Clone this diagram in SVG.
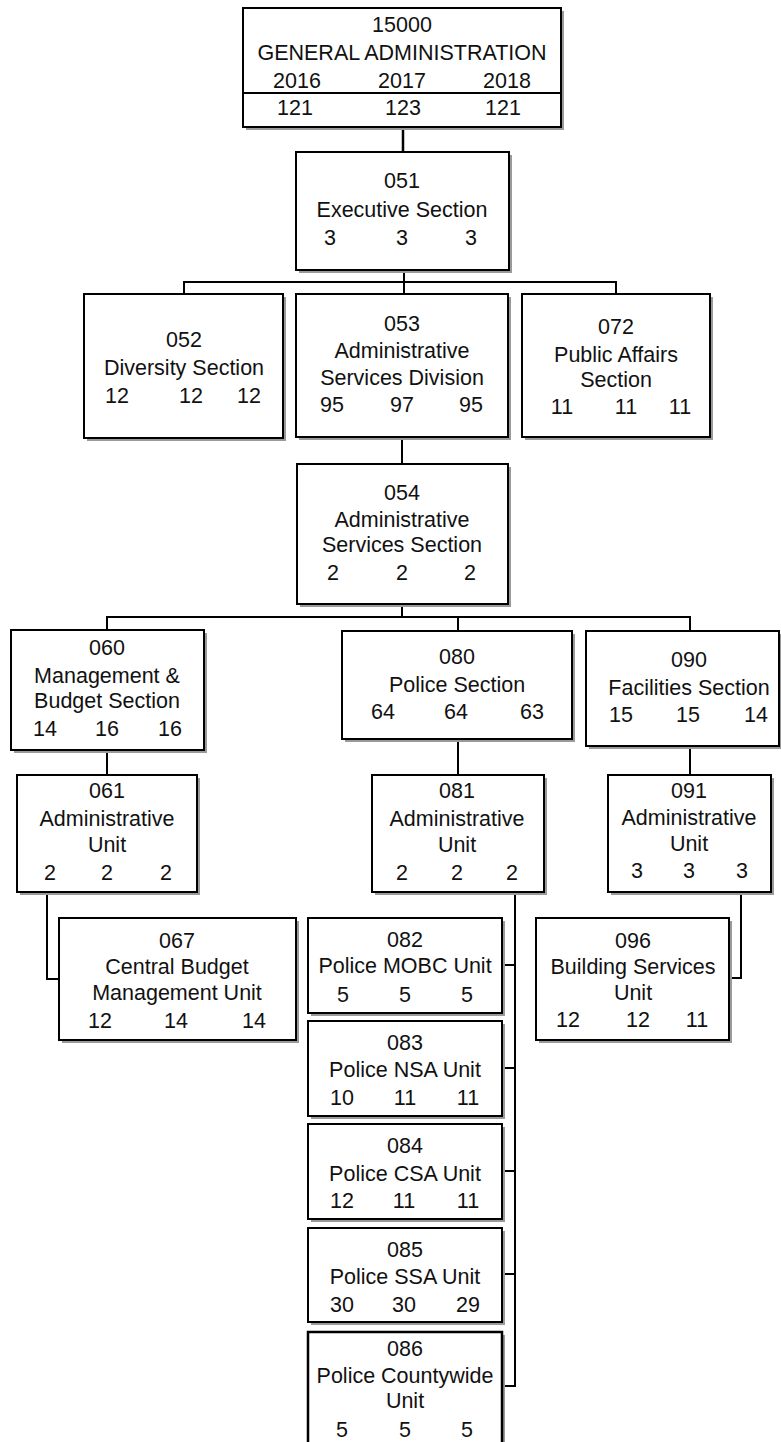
<svg xmlns="http://www.w3.org/2000/svg" width="781" height="1442" viewBox="0 0 781 1442">
  <style>
    .bg{fill:#fff}
    .box{fill:#fff;stroke:#000;stroke-width:2}
    .sh{fill:#9a9a9a}
    .ln{fill:none;stroke:#000;stroke-width:2}
    text{font-family:"Liberation Sans",Arial,sans-serif;font-size:21.5px;fill:#111;text-anchor:middle}
  </style>
  <rect class="bg" x="0" y="0" width="781" height="1442"/>

  <!-- connectors -->
  <g id="connectors">
    <path class="ln" style="stroke-width:2.5" d="M403 127V152"/>
    <path class="ln" d="M404 270V282M184 294V282H616V294M404 282V294"/>
    <path class="ln" d="M402 437V464"/>
    <path class="ln" d="M402 604V617M107 630V617H690V631M458 617V631"/>
    <path class="ln" d="M107 750V775"/>
    <path class="ln" d="M458 739V775"/>
    <path class="ln" d="M690 746V775"/>
    <path class="ln" d="M47 892V979H59"/>
    <path class="ln" d="M741 892V978H729"/>
    <path class="ln" d="M515 892V1386H502M502 965H515M502 1068H515M502 1171H515M502 1274H515"/>
  </g>

  <!-- 15000 General Administration -->
  <g id="n15000">
    <rect class="sh" x="246" y="11" width="318" height="119"/>
    <rect class="box" x="243" y="8" width="318" height="119"/>
    <path class="ln" d="M243 93H561"/>
    <text x="402" y="32">15000</text>
    <text x="402" y="60">GENERAL ADMINISTRATION</text>
    <text x="297" y="88">2016</text><text x="402" y="88">2017</text><text x="507" y="88">2018</text>
    <text x="295" y="115">121</text><text x="403" y="115">123</text><text x="503" y="115">121</text>
  </g>

  <g id="n051">
    <rect class="sh" x="299" y="155" width="213" height="118"/>
    <rect class="box" x="296" y="152" width="213" height="118"/>
    <text x="402" y="188">051</text>
    <text x="402" y="217">Executive Section</text>
    <text x="330" y="245">3</text><text x="402" y="245">3</text><text x="471" y="245">3</text>
  </g>

  <g id="n052">
    <rect class="sh" x="87" y="297" width="199" height="144"/>
    <rect class="box" x="84" y="294" width="199" height="144"/>
    <text x="184" y="347">052</text>
    <text x="184" y="375">Diversity Section</text>
    <text x="117" y="403">12</text><text x="191" y="403">12</text><text x="249" y="403">12</text>
  </g>

  <g id="n053">
    <rect class="sh" x="299" y="297" width="212" height="143"/>
    <rect class="box" x="296" y="294" width="212" height="143"/>
    <text x="402" y="331">053</text>
    <text x="402" y="358">Administrative</text>
    <text x="402" y="385">Services Division</text>
    <text x="332" y="412">95</text><text x="402" y="412">97</text><text x="471" y="412">95</text>
  </g>

  <g id="n072">
    <rect class="sh" x="525" y="297" width="188" height="143"/>
    <rect class="box" x="522" y="294" width="188" height="143"/>
    <text x="616" y="334">072</text>
    <text x="616" y="362">Public Affairs</text>
    <text x="616" y="387">Section</text>
    <text x="562" y="414">11</text><text x="626" y="414">11</text><text x="680" y="414">11</text>
  </g>

  <g id="n054">
    <rect class="sh" x="300" y="467" width="211" height="140"/>
    <rect class="box" x="297" y="464" width="211" height="140"/>
    <text x="402" y="500">054</text>
    <text x="402" y="527">Administrative</text>
    <text x="402" y="552">Services Section</text>
    <text x="333" y="580">2</text><text x="402" y="580">2</text><text x="470" y="580">2</text>
  </g>

  <g id="n060">
    <rect class="sh" x="14" y="633" width="193" height="120"/>
    <rect class="box" x="11" y="630" width="193" height="120"/>
    <text x="107" y="655">060</text>
    <text x="107" y="683">Management &amp;</text>
    <text x="107" y="708">Budget Section</text>
    <text x="45" y="736">14</text><text x="107" y="736">16</text><text x="170" y="736">16</text>
  </g>

  <g id="n080">
    <rect class="sh" x="345" y="634" width="230" height="108"/>
    <rect class="box" x="342" y="631" width="230" height="108"/>
    <text x="457" y="664">080</text>
    <text x="457" y="692">Police Section</text>
    <text x="383" y="719">64</text><text x="456" y="719">64</text><text x="532" y="719">63</text>
  </g>

  <g id="n090">
    <rect class="sh" x="589" y="634" width="193" height="115"/>
    <rect class="box" x="586" y="631" width="193" height="115"/>
    <text x="689" y="667">090</text>
    <text x="689" y="695">Facilities Section</text>
    <text x="621" y="722">15</text><text x="688" y="722">15</text><text x="756" y="722">14</text>
  </g>

  <g id="n061">
    <rect class="sh" x="20" y="778" width="180" height="117"/>
    <rect class="box" x="17" y="775" width="180" height="117"/>
    <text x="107" y="798">061</text>
    <text x="107" y="826">Administrative</text>
    <text x="107" y="852">Unit</text>
    <text x="50" y="880">2</text><text x="107" y="880">2</text><text x="166" y="880">2</text>
  </g>

  <g id="n081">
    <rect class="sh" x="375" y="778" width="172" height="117"/>
    <rect class="box" x="372" y="775" width="172" height="117"/>
    <text x="457" y="798">081</text>
    <text x="457" y="826">Administrative</text>
    <text x="457" y="852">Unit</text>
    <text x="402" y="880">2</text><text x="457" y="880">2</text><text x="512" y="880">2</text>
  </g>

  <g id="n091">
    <rect class="sh" x="611" y="778" width="163" height="117"/>
    <rect class="box" x="608" y="775" width="163" height="117"/>
    <text x="689" y="798">091</text>
    <text x="689" y="825">Administrative</text>
    <text x="689" y="851">Unit</text>
    <text x="637" y="878">3</text><text x="689" y="878">3</text><text x="742" y="878">3</text>
  </g>

  <g id="n067">
    <rect class="sh" x="62" y="921" width="237" height="122"/>
    <rect class="box" x="59" y="918" width="237" height="122"/>
    <text x="177" y="948">067</text>
    <text x="177" y="974">Central Budget</text>
    <text x="177" y="1000">Management Unit</text>
    <text x="100" y="1028">12</text><text x="176" y="1028">14</text><text x="254" y="1028">14</text>
  </g>

  <g id="n096">
    <rect class="sh" x="539" y="921" width="193" height="122"/>
    <rect class="box" x="536" y="918" width="193" height="122"/>
    <text x="633" y="948">096</text>
    <text x="633" y="974">Building Services</text>
    <text x="633" y="1000">Unit</text>
    <text x="568" y="1027">12</text><text x="638" y="1027">12</text><text x="697" y="1027">11</text>
  </g>

  <g id="n082">
    <rect class="sh" x="311" y="921" width="194" height="95"/>
    <rect class="box" x="308" y="918" width="194" height="95"/>
    <text x="405" y="947">082</text>
    <text x="405" y="973">Police MOBC Unit</text>
    <text x="343" y="1002">5</text><text x="405" y="1002">5</text><text x="467" y="1002">5</text>
  </g>

  <g id="n083">
    <rect class="sh" x="311" y="1024" width="194" height="95"/>
    <rect class="box" x="308" y="1021" width="194" height="95"/>
    <text x="405" y="1050">083</text>
    <text x="405" y="1077">Police NSA Unit</text>
    <text x="342" y="1105">10</text><text x="405" y="1105">11</text><text x="468" y="1105">11</text>
  </g>

  <g id="n084">
    <rect class="sh" x="311" y="1127" width="194" height="95"/>
    <rect class="box" x="308" y="1124" width="194" height="95"/>
    <text x="405" y="1153">084</text>
    <text x="405" y="1181">Police CSA Unit</text>
    <text x="342" y="1208">12</text><text x="404" y="1208">11</text><text x="468" y="1208">11</text>
  </g>

  <g id="n085">
    <rect class="sh" x="311" y="1231" width="194" height="94"/>
    <rect class="box" x="308" y="1228" width="194" height="94"/>
    <text x="405" y="1257">085</text>
    <text x="405" y="1284">Police SSA Unit</text>
    <text x="342" y="1312">30</text><text x="404" y="1312">30</text><text x="468" y="1312">29</text>
  </g>

  <g id="n086">
    <rect class="sh" x="311" y="1335" width="194" height="120"/>
    <rect class="box" style="stroke-width:2.5" x="308" y="1332" width="194" height="120"/>
    <text x="405" y="1356">086</text>
    <text x="405" y="1383">Police Countywide</text>
    <text x="405" y="1408">Unit</text>
    <text x="342" y="1437">5</text><text x="405" y="1437">5</text><text x="467" y="1437">5</text>
  </g>
</svg>
